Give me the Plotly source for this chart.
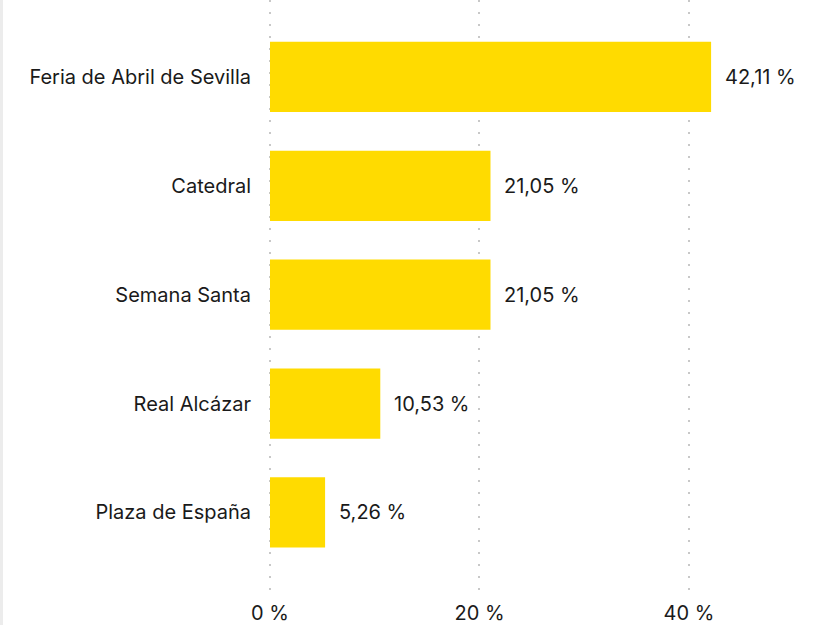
import plotly.graph_objects as go

categories = ["Feria de Abril de Sevilla", "Catedral", "Semana Santa", "Real Alcázar", "Plaza de España"]
values = [42.11, 21.05, 21.05, 10.53, 5.26]
tick_vals = [0, 20, 40]
tick_text = ["0 %", "20 %", "40 %"]

BAR = "#FFDB00"
TXT = "#1a1a1a"
FONT = "Inter"
FS = 20

fig = go.Figure()
fig.add_trace(go.Bar(
    y=categories, x=values, orientation="h",
    marker=dict(color=BAR, line=dict(width=0)),
    width=0.645,
    hoverinfo="skip",
))

for c, v in zip(categories, values):
    fig.add_annotation(
        x=v, y=c, xref="x", yref="y",
        text=f"{v:.2f}".replace(".", ",") + " %",
        showarrow=False, xanchor="left", yanchor="middle", xshift=12,
        font=dict(family=FONT, size=FS, color=TXT),
    )

# left grey border
fig.add_shape(type="rect", xref="paper", yref="paper",
              x0=-268/538, x1=-265/538, y0=-1, y1=2,
              fillcolor="#ececec", line=dict(width=0), layer="below")

fig.update_layout(
    width=816, height=625,
    margin=dict(l=268, r=10, t=0, b=32),
    paper_bgcolor="white", plot_bgcolor="white",
    showlegend=False,
    font=dict(family=FONT, size=FS, color=TXT),
    xaxis=dict(
        range=[-0.19, 51.17], tickvals=tick_vals, ticktext=tick_text,
        showgrid=True, gridcolor="#c8c8c8", griddash="2px,10px", gridwidth=2,
        zeroline=False, showline=False, ticks="", ticklabelstandoff=6,
        tickfont=dict(family=FONT, size=FS, color=TXT),
    ),
    yaxis=dict(
        autorange=False, range=[4.74, -0.706],
        showgrid=False, zeroline=False, showline=False, ticks="",
        ticklabelstandoff=16,
        tickfont=dict(family=FONT, size=FS, color=TXT),
    ),
    bargap=0.355,
)

fig.write_html("out.html", config={"displayModeBar": False},
               post_script="document.body.style.margin='0';document.body.style.overflow='hidden';")
